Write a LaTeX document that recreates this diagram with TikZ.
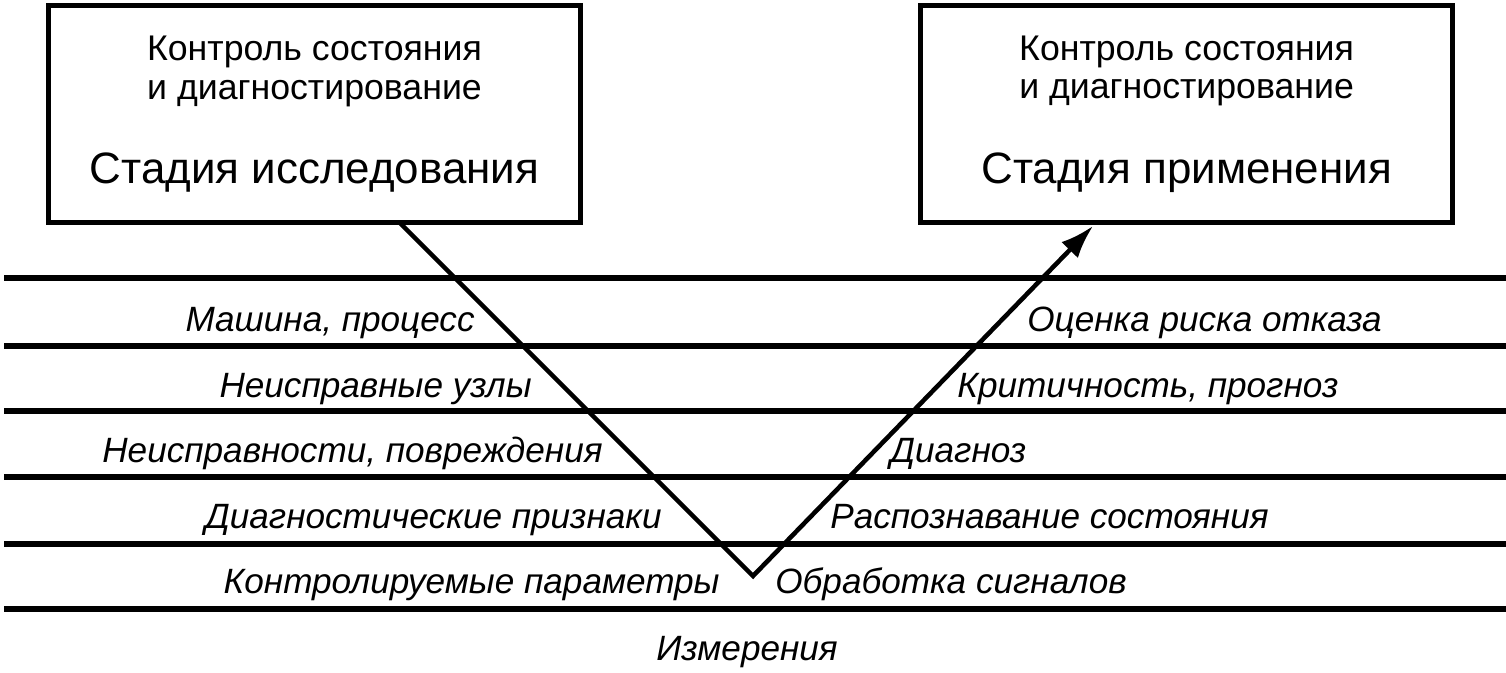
\documentclass[tikz,border=0pt]{standalone}
\usepackage{fontspec}
\setmainfont{Liberation Sans}
\usetikzlibrary{positioning,arrows.meta}

\tikzset{
    stage/.style={draw,line width=3pt,minimum width=10.64cm,minimum height=4.35cm,
        inner sep=0pt,align=center,font=\fontsize{20.3}{22}\selectfont},
    level/.style={font=\fontsize{20}{22}\selectfont\itshape,inner sep=0pt},
    rule/.style={line width=3pt},
}

\begin{document}
\begin{tikzpicture}[x=0.02cm,y=-0.02cm]
    \useasboundingbox (0,0) rectangle (1506,672);

    \node[stage] (s1) at (314.5,114)
        {Контроль состояния\\и диагностирование\\[26pt]{\fontsize{25}{30}\selectfont Стадия исследования}};
    \node[stage,right=6.7cm of s1] (s2)
        {Контроль состояния\\и диагностирование\\[26pt]{\fontsize{25}{30}\selectfont Стадия применения}};

    \foreach \y in {278,346,411,477,544,609}
        \draw[rule] (4,\y) -- (1506,\y);

    \coordinate (v1) at (400,223);
    \coordinate (v2) at (753,576);
    \coordinate (v3) at (1093,226);

    \node[level,anchor=base east] (l1) at (475,331) {Машина, процесс};
    \node[level,anchor=base east] (l2) at (532,397) {Неисправные узлы};
    \node[level,anchor=base east] (l3) at (603,462) {Неисправности, повреждения};
    \node[level,anchor=base east] (l4) at (662,528) {Диагностические признаки};
    \node[level,anchor=base east] (l5) at (720,593) {Контролируемые параметры};

    \node[level,anchor=base west] (r1) at (1027,331) {Оценка риска отказа};
    \node[level,anchor=base west] (r2) at (957,397) {Критичность, прогноз};
    \node[level,anchor=base west] (r3) at (890,462) {Диагноз};
    \node[level,anchor=base west] (r4) at (830,528) {Распознавание состояния};
    \node[level,anchor=base west] (r5) at (775,593) {Обработка сигналов};

    \node[level,anchor=base] (m1) at (747,660) {Измерения};

    \draw[line width=2.6pt,-{Latex[length=19pt,width=13pt]}] (v1) -- (v2) -- (v3);
\end{tikzpicture}
\end{document}
